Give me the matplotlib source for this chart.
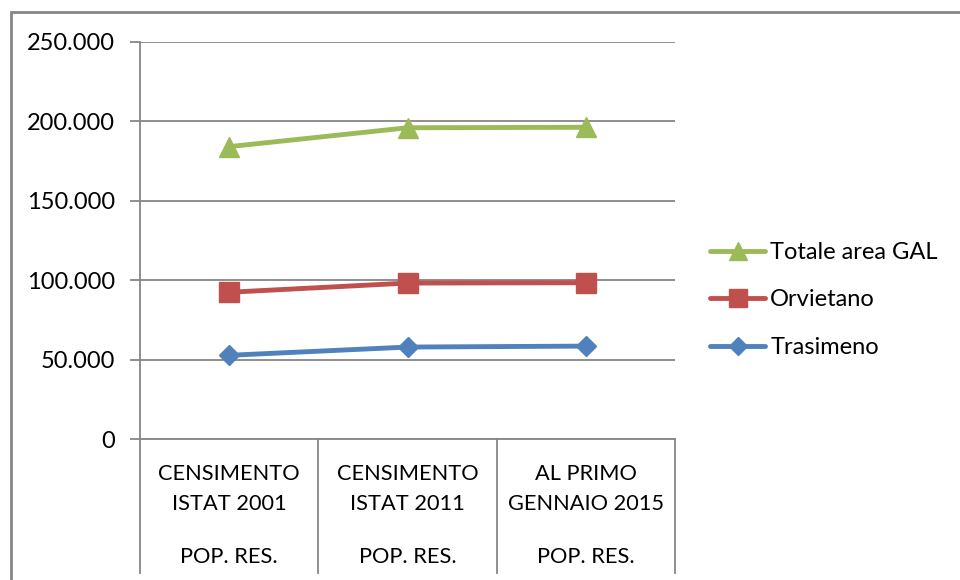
import matplotlib
matplotlib.use("Agg")
import matplotlib.pyplot as plt
from matplotlib.patches import Rectangle
from matplotlib.ticker import FuncFormatter

plt.rcParams['font.family'] = ['Lato', 'DejaVu Sans']

categories = ["CENSIMENTO\nISTAT 2001", "CENSIMENTO\nISTAT 2011", "AL PRIMO\nGENNAIO 2015"]
subcategory = "POP. RES."
trasimeno = [52700, 57900, 58500]
orvietano = [92400, 98200, 98400]
totale = [184100, 196000, 196300]

grey = '#868686'
W, H = 960, 580

fig = plt.figure(figsize=(9.6, 5.8), dpi=100)
ax = fig.add_axes([140 / W, 1 - 439 / H, 535 / W, 397 / H])

x = [i + 0.5 for i in range(len(categories))]
l1, = ax.plot(x, trasimeno, color='#4F81BD', lw=3.5, marker='D', ms=10.5,
              label='Trasimeno', solid_capstyle='round')
l2, = ax.plot(x, orvietano, color='#C0504D', lw=3.5, marker='s', ms=14,
              label='Orvietano', solid_capstyle='round')
l3, = ax.plot(x, totale, color='#9BBB59', lw=3.5, marker='^', ms=14,
              label='Totale area GAL', solid_capstyle='round')

ax.set_xlim(0, 3)
ax.set_ylim(0, 250000)
ax.set_yticks(range(0, 250001, 50000))
ax.yaxis.set_major_formatter(FuncFormatter(
    lambda v, p: '0' if v == 0 else f'{int(v):,}'.replace(',', '.')))
ax.grid(axis='y', color=grey, lw=1.3)
ax.set_axisbelow(True)
ax.set_xticks([])
ax.tick_params(axis='y', length=7, width=1.3, color=grey, labelsize=17, pad=11)
for s in ['top', 'right']:
    ax.spines[s].set_visible(False)
for s in ['left', 'bottom']:
    ax.spines[s].set_color(grey)
    ax.spines[s].set_linewidth(1.3)

# category table under the axis
trans = ax.get_xaxis_transform()
drop = -(573 - 439) / 397
for b in range(len(categories) + 1):
    ax.plot([b, b], [0, drop], color=grey, lw=1.3, transform=trans, clip_on=False)
for xi, cat in zip(x, categories):
    ax.text(xi, -(489 - 439) / 397, cat, transform=trans, ha='center', va='center',
            fontsize=15.7, linespacing=1.65)
    ax.text(xi, -(557 - 439) / 397, subcategory, transform=trans, ha='center',
            va='center', fontsize=15.7)

leg = fig.legend([l3, l2, l1], ['Totale area GAL', 'Orvietano', 'Trasimeno'],
                 loc='center left', bbox_to_anchor=(710 / W, 1 - 300 / H),
                 frameon=False, fontsize=17, handlelength=2.35, handletextpad=0.2,
                 labelspacing=1.12, borderaxespad=0, borderpad=0)
for h in leg.legend_handles:
    h.set_markersize(h.get_markersize() * 0.9)

fig.patches.append(Rectangle((11 / W, -0.05), 1.0, 1 - 12 / H + 0.05,
                             transform=fig.transFigure, fill=False,
                             edgecolor=grey, lw=2))

fig.savefig('out.png', dpi=100)
